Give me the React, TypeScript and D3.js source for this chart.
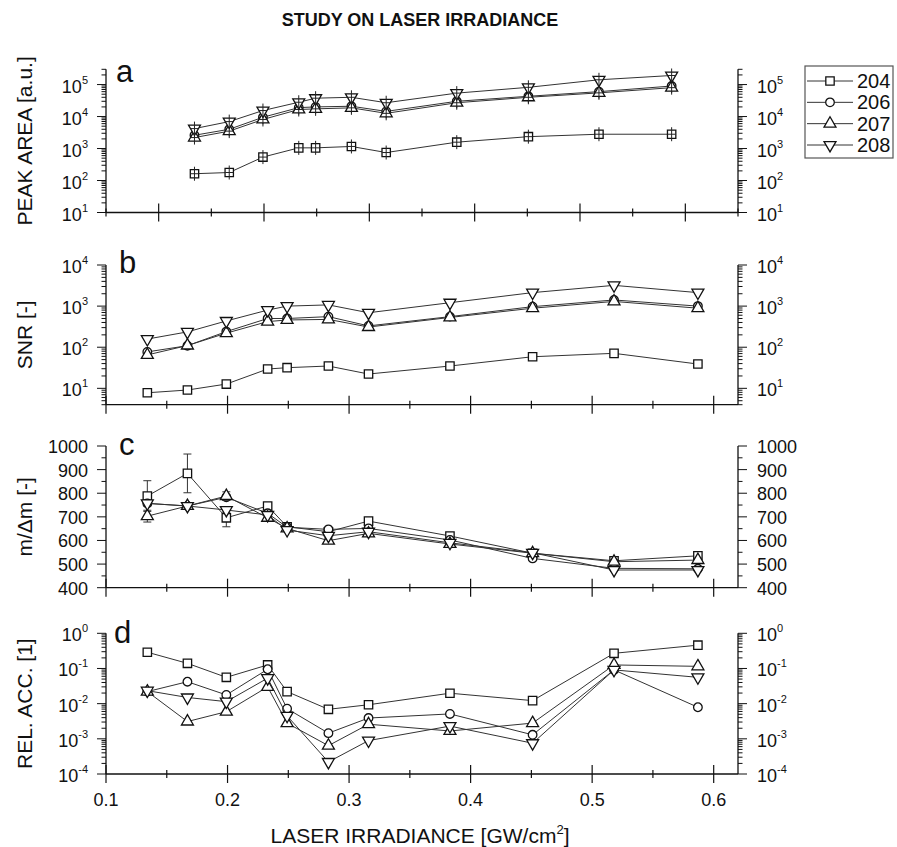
import { useEffect, useRef } from "react";
import * as d3 from "d3";

// laser irradiance of each measurement [GW/cm2]
const irradiance = [0.134, 0.167, 0.199, 0.233, 0.249, 0.283, 0.316, 0.383, 0.451, 0.518, 0.587];

const isotopes = ["204", "206", "207", "208"];

// a: peak area [a.u.]
const peakArea204 = [163, 178, 540, 1050, 1050, 1160, 750, 1580, 2350, 2800, 2800];
const peakArea206 = [2600, 4000, 9500, 19000, 20000, 21000, 14500, 30000, 43000, 60000, 90000];
const peakArea207 = [2200, 3500, 8100, 16600, 17400, 18700, 12600, 27000, 40000, 55000, 80000];
const peakArea208 = [4200, 6950, 15400, 28000, 37500, 40000, 27000, 54000, 82000, 141000, 192000];

// b: signal to noise ratio
const snr204 = [7.8, 9.1, 12.7, 29.5, 31.8, 34.9, 22.3, 34.9, 58.7, 71, 39];
const snr206 = [77, 109, 240, 500, 500, 555, 330, 555, 970, 1410, 1000];
const snr207 = [65, 110, 220, 420, 460, 475, 310, 530, 890, 1300, 890];
const snr208 = [158, 236, 435, 800, 1000, 1070, 690, 1210, 2130, 3200, 2130];

// c: mass resolution m/dm and its error
const res204 = [788, 884, 696, 746, 658, 637, 682, 619, 546, 514, 535];
const res206 = [757, 746, 783, 715, 656, 647, 651, 602, 524, 482, 480];
const res207 = [703, 746, 788, 696, 651, 599, 630, 585, 546, 510, 517];
const res208 = [757, 746, 729, 708, 644, 620, 637, 590, 548, 475, 475];
const resErr204 = [65, 82, 38, 12, 8, 8, 10, 10, 10, 8, 8];
const resErr206 = [10, 8, 12, 8, 6, 8, 8, 8, 8, 6, 6];
const resErr207 = [25, 10, 18, 10, 8, 10, 12, 10, 8, 8, 8];
const resErr208 = [10, 8, 10, 8, 6, 8, 8, 8, 8, 6, 6];

// d: relative accuracy
const acc204 = [0.29, 0.14, 0.056, 0.126, 0.022, 0.0069, 0.0093, 0.0198, 0.0122, 0.27, 0.46];
const acc206 = [0.022, 0.042, 0.0177, 0.095, 0.0072, 0.00145, 0.0039, 0.0051, 0.0013, 0.091, 0.0079];
const acc207 = [0.022, 0.0031, 0.0059, 0.03, 0.0028, 0.00064, 0.0026, 0.00167, 0.0028, 0.126, 0.115];
const acc208 = [0.0234, 0.015, 0.0114, 0.053, 0.0045, 0.00022, 0.00089, 0.0023, 0.00075, 0.091, 0.056];

const xTickLabels = ["0.1", "0.2", "0.3", "0.4", "0.5", "0.6"];

const FONT = "Arial, 'Liberation Sans', Helvetica, sans-serif";
const X0 = 106;
const X1 = 738;

const symbols = [d3.symbolSquare, d3.symbolCircle, d3.symbolTriangle, d3.symbolTriangle];
const symbolSizes = [70, 58, 62, 62];
const symbolRotate = [0, 0, 0, 180];

type Panel = {
  letter: string;
  title: string;
  values: number[][];
  errors?: number[][];
  log: boolean;
  yDomain: [number, number];
  yRange: [number, number];
  xDomain: [number, number];
  decades?: number[];
  linTicks?: number[];
  crosses?: boolean;
  xLabels?: boolean;
  letterPos: [number, number];
};

const panels: Panel[] = [
  {
    letter: "a",
    title: "PEAK AREA [a.u.]",
    values: [peakArea204, peakArea206, peakArea207, peakArea208],
    log: true,
    yDomain: [10, 3e5],
    yRange: [212.5, 69.3],
    xDomain: [0.05, 0.65],
    decades: [1, 2, 3, 4, 5],
    crosses: true,
    letterPos: [116, 82],
  },
  {
    letter: "b",
    title: "SNR [-]",
    values: [snr204, snr206, snr207, snr208],
    log: true,
    yDomain: [4, 1e4],
    yRange: [404.7, 265],
    xDomain: [0.1, 0.62],
    decades: [1, 2, 3, 4],
    letterPos: [119, 273],
  },
  {
    letter: "c",
    title: "m/\u0394m [-]",
    values: [res204, res206, res207, res208],
    errors: [resErr204, resErr206, resErr207, resErr208],
    log: false,
    yDomain: [400, 1000],
    yRange: [587.7, 446],
    xDomain: [0.1, 0.62],
    linTicks: [400, 500, 600, 700, 800, 900, 1000],
    letterPos: [119, 455],
  },
  {
    letter: "d",
    title: "REL. ACC. [1]",
    values: [acc204, acc206, acc207, acc208],
    log: true,
    yDomain: [1e-4, 1],
    yRange: [774, 633.3],
    xDomain: [0.1, 0.62],
    decades: [-4, -3, -2, -1, 0],
    xLabels: true,
    letterPos: [114, 643],
  },
];

function markerPath(i: number) {
  return d3.symbol().type(symbols[i]).size(symbolSizes[i])() as string;
}

function drawPanel(svg: any, p: Panel) {
  const g = svg.append("g");
  const x = d3.scaleLinear().domain(p.xDomain).range([X0, X1]);
  const y: any = p.log
    ? d3.scaleLog().domain(p.yDomain).range(p.yRange)
    : d3.scaleLinear().domain(p.yDomain).range(p.yRange);
  const [yb, yt] = p.yRange;

  const axis = g.append("g").attr("stroke", "#111").attr("stroke-width", 1.3).attr("fill", "none");
  axis.append("line").attr("x1", X0).attr("x2", X0).attr("y1", yb).attr("y2", yt);
  axis.append("line").attr("x1", X1).attr("x2", X1).attr("y1", yb).attr("y2", yt);
  axis.append("line").attr("x1", X0).attr("x2", X1).attr("y1", yb).attr("y2", yb);

  // y ticks
  const yTicks: { v: number; major: boolean }[] = [];
  if (p.log) {
    const lo = Math.floor(Math.log10(p.yDomain[0]));
    const hi = Math.ceil(Math.log10(p.yDomain[1]));
    for (let e = lo; e <= hi; e++) {
      for (let m = 1; m <= 9; m++) {
        const v = m * Math.pow(10, e);
        if (v >= p.yDomain[0] * 0.999 && v <= p.yDomain[1] * 1.001) yTicks.push({ v, major: m === 1 });
      }
    }
  } else {
    for (let v = p.yDomain[0]; v <= p.yDomain[1]; v += 50) yTicks.push({ v, major: v % 100 === 0 });
  }
  yTicks.forEach((t) => {
    const len = t.major ? 9 : 4.5;
    const yy = y(t.v);
    axis.append("line").attr("x1", X0 - len).attr("x2", X0).attr("y1", yy).attr("y2", yy).attr("stroke-width", 1);
    axis.append("line").attr("x1", X1).attr("x2", X1 + len).attr("y1", yy).attr("y2", yy).attr("stroke-width", 1);
  });

  // x ticks every 0.05, crossing the axis
  const xt = d3.range(Math.round(p.xDomain[0] * 20), Math.floor(p.xDomain[1] * 20 + 1e-6) + 1).map((k) => k / 20);
  xt.forEach((v) => {
    const major = Math.round(v * 20) % 2 === 0;
    const len = major ? 9 : 4;
    axis.append("line").attr("x1", x(v)).attr("x2", x(v)).attr("y1", yb - len).attr("y2", yb + len).attr("stroke-width", 1.2);
  });

  // y tick labels
  const labels = g.append("g").attr("font-family", FONT).attr("fill", "#111");
  if (p.log && p.decades) {
    p.decades.forEach((e) => {
      const yy = y(Math.pow(10, e));
      [
        { xx: 88, anchor: "end" },
        { xx: 757, anchor: "start" },
      ].forEach((s) => {
        const t = labels.append("text").attr("x", s.xx).attr("y", yy + 8).attr("text-anchor", s.anchor).attr("font-size", 18);
        t.append("tspan").text("10");
        t.append("tspan").attr("dy", -9).attr("font-size", 11).text(String(e));
      });
    });
  } else if (p.linTicks) {
    p.linTicks.forEach((v) => {
      const yy = y(v);
      labels.append("text").attr("x", 88).attr("y", yy + 7).attr("text-anchor", "end").attr("font-size", 18).text(v);
      labels.append("text").attr("x", 757).attr("y", yy + 7).attr("text-anchor", "start").attr("font-size", 18).text(v);
    });
  }

  if (p.xLabels) {
    xTickLabels.forEach((l) => {
      labels.append("text").attr("x", x(+l)).attr("y", yb + 32).attr("text-anchor", "middle").attr("font-size", 18).text(l);
    });
  }

  // panel letter
  labels.append("text").attr("x", p.letterPos[0]).attr("y", p.letterPos[1]).attr("font-size", 31).text(p.letter);

  // y title
  labels
    .append("text")
    .attr("transform", `translate(32,${(yb + yt) / 2}) rotate(-90)`)
    .attr("text-anchor", "middle")
    .attr("font-size", 21)
    .text(p.title);

  // series
  const line = d3
    .line<number>()
    .x((_, i) => x(irradiance[i]))
    .y((d) => y(d));

  p.values.forEach((vals, si) => {
    const sg = g.append("g");
    sg.append("path").attr("d", line(vals)).attr("fill", "none").attr("stroke", "#333").attr("stroke-width", 1);

    if (p.errors) {
      const err = p.errors[si];
      vals.forEach((v, i) => {
        const cx = x(irradiance[i]);
        const y1 = y(v + err[i]);
        const y2 = y(v - err[i]);
        const eg = sg.append("g").attr("stroke", "#333").attr("stroke-width", 1);
        eg.append("line").attr("x1", cx).attr("x2", cx).attr("y1", y1).attr("y2", y2);
        eg.append("line").attr("x1", cx - 4).attr("x2", cx + 4).attr("y1", y1).attr("y2", y1);
        eg.append("line").attr("x1", cx - 4).attr("x2", cx + 4).attr("y1", y2).attr("y2", y2);
      });
    }

    vals.forEach((v, i) => {
      const cx = x(irradiance[i]);
      const cy = y(v);
      sg.append("path")
        .attr("d", markerPath(si))
        .attr("transform", `translate(${cx},${cy}) rotate(${symbolRotate[si]})`)
        .attr("fill", "#fff")
        .attr("stroke", "#111")
        .attr("stroke-width", 1.3);
      if (p.crosses) {
        const c = sg.append("g").attr("stroke", "#222").attr("stroke-width", 1);
        c.append("line").attr("x1", cx).attr("x2", cx).attr("y1", cy - 7).attr("y2", cy + 7);
        c.append("line").attr("x1", cx - 4).attr("x2", cx + 4).attr("y1", cy).attr("y2", cy);
      }
    });
  });
}

function drawLegend(svg: any) {
  const g = svg.append("g").attr("font-family", FONT);
  const rowY = d3.scaleLinear().domain([0, 3]).range([81, 145]);
  g.append("rect")
    .attr("x", 805)
    .attr("y", 66)
    .attr("width", 88)
    .attr("height", 92)
    .attr("fill", "#fff")
    .attr("stroke", "#555")
    .attr("stroke-width", 1.2);
  isotopes.forEach((name, i) => {
    const yy = rowY(i);
    g.append("line").attr("x1", 807).attr("x2", 853).attr("y1", yy).attr("y2", yy).attr("stroke", "#333").attr("stroke-width", 1);
    g.append("path")
      .attr("d", markerPath(i))
      .attr("transform", `translate(830,${yy}) rotate(${symbolRotate[i]})`)
      .attr("fill", "#fff")
      .attr("stroke", "#111")
      .attr("stroke-width", 1.3);
    g.append("text").attr("x", 857).attr("y", yy + 7).attr("font-size", 20).attr("fill", "#111").text(name);
  });
}

export default function App() {
  const svgRef = useRef<SVGSVGElement>(null);

  useEffect(() => {
    if (!svgRef.current) return;
    const svg = d3.select(svgRef.current);
    svg.selectAll("*").remove();

    svg.append("rect").attr("width", 897).attr("height", 847).attr("fill", "#fff");

    svg
      .append("text")
      .attr("x", 420)
      .attr("y", 26)
      .attr("text-anchor", "middle")
      .attr("font-family", FONT)
      .attr("font-weight", "bold")
      .attr("font-size", 18)
      .attr("fill", "#111")
      .text("STUDY ON LASER IRRADIANCE");

    panels.forEach((p) => drawPanel(svg, p));
    drawLegend(svg);

    const xt = svg
      .append("text")
      .attr("x", 420)
      .attr("y", 843)
      .attr("text-anchor", "middle")
      .attr("font-family", FONT)
      .attr("font-size", 21)
      .attr("fill", "#111");
    xt.append("tspan").text("LASER IRRADIANCE [GW/cm");
    xt.append("tspan").attr("dy", -9).attr("font-size", 13).text("2");
    xt.append("tspan").attr("dy", 9).text("]");
  }, []);

  return (
    <svg
      ref={svgRef}
      width={897}
      height={847}
      style={{ position: "absolute", left: 0, top: 0, display: "block" }}
    />
  );
}
